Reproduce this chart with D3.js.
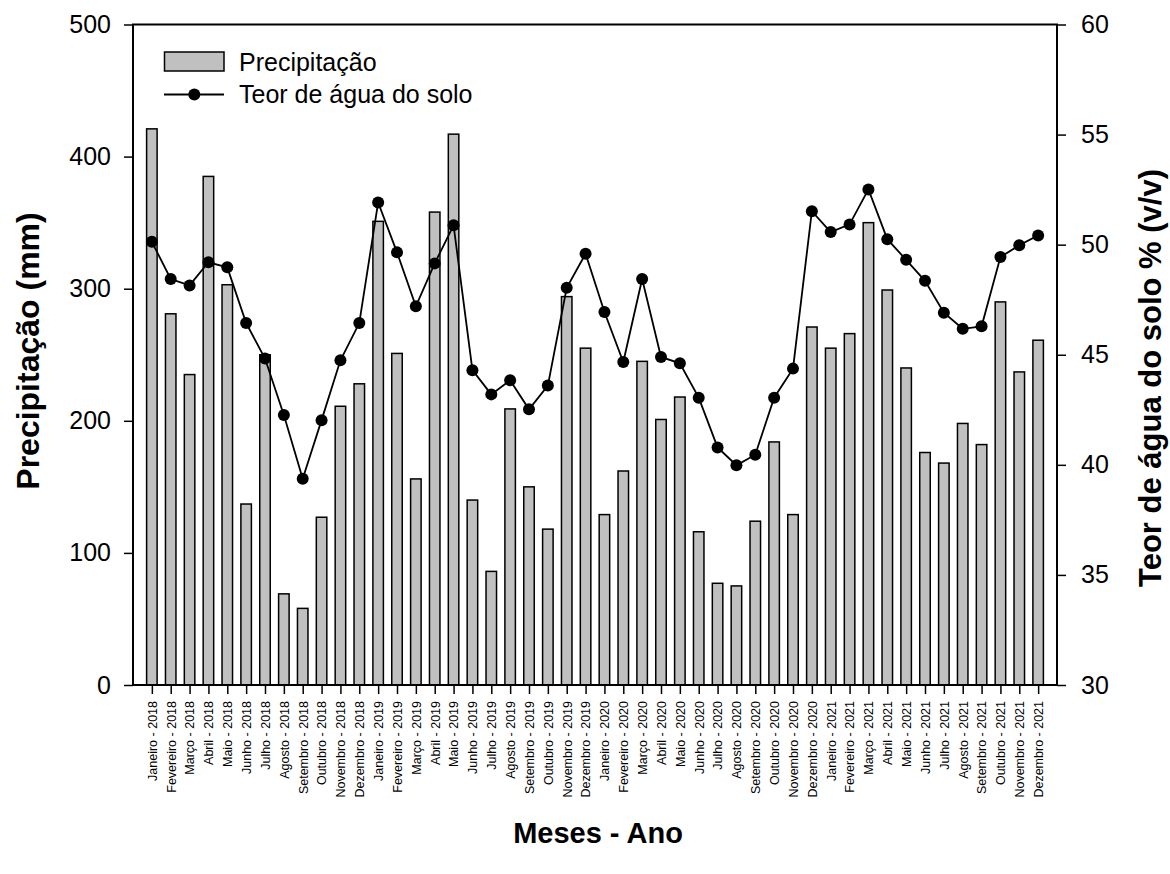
<!DOCTYPE html>
<html>
<head>
<meta charset="utf-8">
<script src="https://cdn.jsdelivr.net/npm/d3@7"></script>
<style>
  body { margin: 0; background: #fff; }
  text { font-family: Arial, "Liberation Sans", sans-serif; fill: #000; }
</style>
</head>
<body>
<div id="container"></div>
<script>
/* DATA */
const nomesMeses = ["Janeiro","Fevereiro","Março","Abril","Maio","Junho","Julho","Agosto","Setembro","Outubro","Novembro","Dezembro"];
const anos = [2018, 2019, 2020, 2021];
const meses = anos.flatMap(a => nomesMeses.map(m => `${m} - ${a}`));

// precipitação mensal (mm)
const precipitacao = [421,281,235,385,303,137,250,69,58,127,211,228,
                      351,251,156,358,417,140,86,209,150,118,294,255,
                      129,162,245,201,218,116,77,75,124,184,129,271,
                      255,266,350,299,240,176,168,198,182,290,237,261];

// teor de água do solo % (v/v)
const teorAgua = [50.13,48.44,48.15,49.2,48.97,46.44,44.83,42.26,39.37,42.03,44.75,46.44,
                  51.92,49.65,47.2,49.15,50.88,44.3,43.2,43.84,42.52,43.6,48.04,49.59,
                  46.94,44.67,48.44,44.9,44.61,43.05,40.79,39.98,40.46,43.05,44.37,51.52,
                  50.57,50.92,52.51,50.25,49.31,48.36,46.91,46.18,46.29,49.44,49.97,50.42];

const ticksPrecip = [0,100,200,300,400,500];
const ticksTeor = [30,35,40,45,50,55,60];

/* CONSTANTS */
const width = 1170, height = 874,
      margin = {top:24.5, right:113, bottom:189, left:133},
      innerWidth = width - margin.left - margin.right,
      innerHeight = height - margin.top - margin.bottom;

const data = meses.map((m,i) => ({mes: m, prec: precipitacao[i], teor: teorAgua[i]}));

/* SCALES */
const xScale = d3.scalePoint()
    .domain(meses)
    .range([0, innerWidth])
    .padding(1);

const yLeft = d3.scaleLinear().domain([0, 500]).range([innerHeight, 0]);
const yRight = d3.scaleLinear().domain([30, 60]).range([innerHeight, 0]);

const barW = 10.5;

/* ELEMENTS */
const svg = d3.select("#container").append("svg")
    .attr("width", width)
    .attr("height", height);

const g = svg.append("g")
    .attr("transform", `translate(${margin.left},${margin.top})`);

// bars
g.selectAll("rect.bar")
  .data(data)
  .join("rect")
    .attr("class","bar")
    .attr("x", d => xScale(d.mes) - barW/2)
    .attr("y", d => yLeft(d.prec))
    .attr("width", barW)
    .attr("height", d => innerHeight - yLeft(d.prec))
    .attr("fill", "#c0c0c0")
    .attr("stroke", "#000")
    .attr("stroke-width", 1.5);

// line
const lineGen = d3.line()
    .x(d => xScale(d.mes))
    .y(d => yRight(d.teor));

g.append("path")
  .datum(data)
  .attr("d", lineGen)
  .attr("fill","none")
  .attr("stroke","#000")
  .attr("stroke-width", 1.8);

g.selectAll("circle.pt")
  .data(data)
  .join("circle")
    .attr("class","pt")
    .attr("cx", d => xScale(d.mes))
    .attr("cy", d => yRight(d.teor))
    .attr("r", 6)
    .attr("fill","#000");

// frame
g.append("rect")
  .attr("width", innerWidth)
  .attr("height", innerHeight)
  .attr("fill","none")
  .attr("stroke","#000")
  .attr("stroke-width", 2);

// axes
const axisLeft = g.append("g")
  .call(d3.axisLeft(yLeft).tickValues(ticksPrecip).tickSize(9).tickSizeOuter(0).tickPadding(13));
const axisRight = g.append("g")
  .attr("transform", `translate(${innerWidth},0)`)
  .call(d3.axisRight(yRight).tickValues(ticksTeor).tickSize(9).tickSizeOuter(0).tickPadding(15));

[axisLeft, axisRight].forEach(a => {
  a.select(".domain").remove();
  a.selectAll("line").attr("stroke-width", 1.5);
  a.selectAll("text").attr("font-size", "25px").attr("font-family", "Arial, 'Liberation Sans', sans-serif");
});

const axisBottom = g.append("g")
  .attr("transform", `translate(0,${innerHeight})`)
  .call(d3.axisBottom(xScale).tickSize(9).tickSizeOuter(0));
axisBottom.select(".domain").remove();
axisBottom.selectAll("line").attr("stroke-width", 1.5);
axisBottom.selectAll("text")
  .attr("font-size", "12.5px")
  .attr("font-family", "Arial, 'Liberation Sans', sans-serif")
  .attr("text-anchor", "end")
  .attr("transform", "rotate(-90)")
  .attr("x", -16)
  .attr("y", 0)
  .attr("dy", "0.35em");

// axis titles
svg.append("text")
  .attr("transform", "translate(28,351) rotate(-90)")
  .attr("text-anchor","middle")
  .attr("dy","0.35em")
  .attr("font-size","32px")
  .attr("font-weight","bold")
  .text("Precipitação (mm)");

svg.append("text")
  .attr("transform", "translate(1150,378) rotate(-90)")
  .attr("text-anchor","middle")
  .attr("dy","0.35em")
  .attr("font-size","31px")
  .attr("font-weight","bold")
  .text("Teor de água do solo % (v/v)");

svg.append("text")
  .attr("x", 598)
  .attr("y", 843)
  .attr("text-anchor","middle")
  .attr("font-size","29px")
  .attr("font-weight","bold")
  .text("Meses - Ano");

// legend
const legend = svg.append("g");
legend.append("rect")
  .attr("x",164.5).attr("y",52)
  .attr("width",59.5).attr("height",19)
  .attr("fill","#c0c0c0").attr("stroke","#000").attr("stroke-width",1.5);
legend.append("text")
  .attr("x",239).attr("y",71)
  .attr("font-size","25px")
  .text("Precipitação");
legend.append("line")
  .attr("x1",164).attr("x2",224).attr("y1",94.5).attr("y2",94.5)
  .attr("stroke","#000").attr("stroke-width",1.8);
legend.append("circle")
  .attr("cx",194.3).attr("cy",94.5).attr("r",6).attr("fill","#000");
legend.append("text")
  .attr("x",239).attr("y",103)
  .attr("font-size","25px")
  .text("Teor de água do solo");
</script>
</body>
</html>
